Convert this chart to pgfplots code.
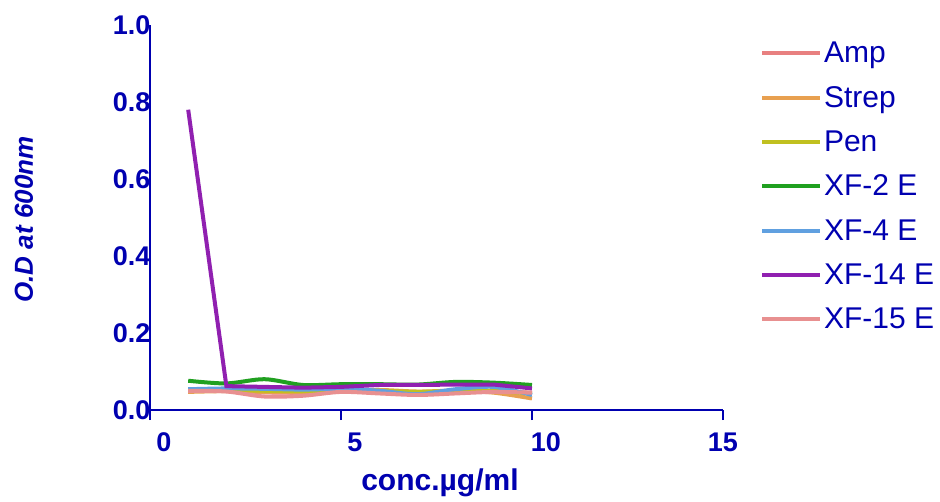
\documentclass[border=0pt]{standalone}
\usepackage{fontspec}
\setmainfont{Liberation Sans}
\usepackage{pgfplots}
\pgfplotsset{compat=1.18}
\definecolor{tblue}{RGB}{0,0,176}
\definecolor{cAmp}{RGB}{232,128,128}
\definecolor{cStrep}{RGB}{232,160,80}
\definecolor{cPen}{RGB}{192,192,32}
\definecolor{cXF2}{RGB}{32,160,32}
\definecolor{cXF4}{RGB}{96,160,224}
\definecolor{cXF14}{RGB}{144,32,176}
\definecolor{cXF15}{RGB}{232,144,144}
\begin{document}
\begin{tikzpicture}
\useasboundingbox (-150pt,-91pt) rectangle (790pt,410pt);
\begin{axis}[
  at={(0,0)}, anchor=south west,
  scale only axis, width=573pt, height=385pt,
  xmin=0, xmax=15, ymin=0, ymax=1,
  axis lines=left,
  axis line style={tblue, line width=2.5pt, -},
  every axis x line/.append style={-},
  every axis y line/.append style={-},
  xtick={0,5,10},
  extra x ticks={15},
  extra x tick style={xticklabel style={xshift=-14pt}},
  ytick={0,0.2,0.4,0.6,0.8,1.0},
  yticklabels={0.0,0.2,0.4,0.6,0.8,1.0},
  tick align=outside,
  major tick length=10pt,
  xtick style={tblue, line width=2.5pt},
  ytick style={draw=none},
  tick label style={font=\fontsize{27}{27}\selectfont\bfseries, text=tblue},
  /pgf/number format/assume math mode=true,
  xticklabel style={xshift=14pt, yshift=-9pt},
  yticklabel style={anchor=east, xshift=14pt},
  xlabel={conc.µg/ml},
  ylabel={O.D at 600nm},
  xlabel style={font=\fontsize{30}{30}\selectfont\bfseries, text=tblue, at={(axis description cs:0.506,0)}, anchor=center, yshift=-73pt},
  ylabel style={font=\fontsize{26}{26}\selectfont\bfseries\itshape, text=tblue, at={(axis description cs:-0.22,0.495)}, anchor=center},
  clip=false,
  legend cell align=left,
  legend style={draw=none, fill=none, at={(axis description cs:1.059,0.966)}, anchor=north west,
    font=\fontsize{30}{30}\selectfont, text=tblue, row sep=18pt},
  legend image code/.code={\draw[#1, line width=3pt] (0pt,0pt) -- (41pt,0pt); \path (0pt,0pt) -- (58pt,0pt);},
  every axis plot/.append style={line width=4pt, smooth, tension=0.5, no markers},
]
\addplot[cAmp] coordinates {(1,0.052)(2,0.052)(3,0.046)(4,0.045)(5,0.050)(6,0.047)(7,0.043)(8,0.046)(9,0.048)(10,0.045)};
\addlegendentry{Amp}
\addplot[cStrep] coordinates {(1,0.047)(2,0.049)(3,0.047)(4,0.046)(5,0.049)(6,0.052)(7,0.048)(8,0.050)(9,0.045)(10,0.030)};
\addlegendentry{Strep}
\addplot[cPen] coordinates {(1,0.050)(2,0.052)(3,0.050)(4,0.049)(5,0.052)(6,0.050)(7,0.047)(8,0.050)(9,0.050)(10,0.042)};
\addlegendentry{Pen}
\addplot[cXF2] coordinates {(1,0.076)(2,0.069)(3,0.080)(4,0.065)(5,0.067)(6,0.067)(7,0.066)(8,0.073)(9,0.071)(10,0.065)};
\addlegendentry{XF-2 E}
\addplot[cXF4] coordinates {(1,0.054)(2,0.056)(3,0.055)(4,0.053)(5,0.055)(6,0.050)(7,0.041)(8,0.054)(9,0.060)(10,0.039)};
\addlegendentry{XF-4 E}
\addplot[cXF14, smooth=false, sharp plot] coordinates {(1,0.78)(2,0.062)(3,0.060)(4,0.058)(5,0.060)(6,0.065)(7,0.065)(8,0.066)(9,0.066)(10,0.056)};
\addlegendentry{XF-14 E}
\addplot[cXF15] coordinates {(1,0.050)(2,0.048)(3,0.035)(4,0.037)(5,0.047)(6,0.043)(7,0.039)(8,0.043)(9,0.047)(10,0.045)};
\addlegendentry{XF-15 E}
\end{axis}
\end{tikzpicture}
\end{document}
